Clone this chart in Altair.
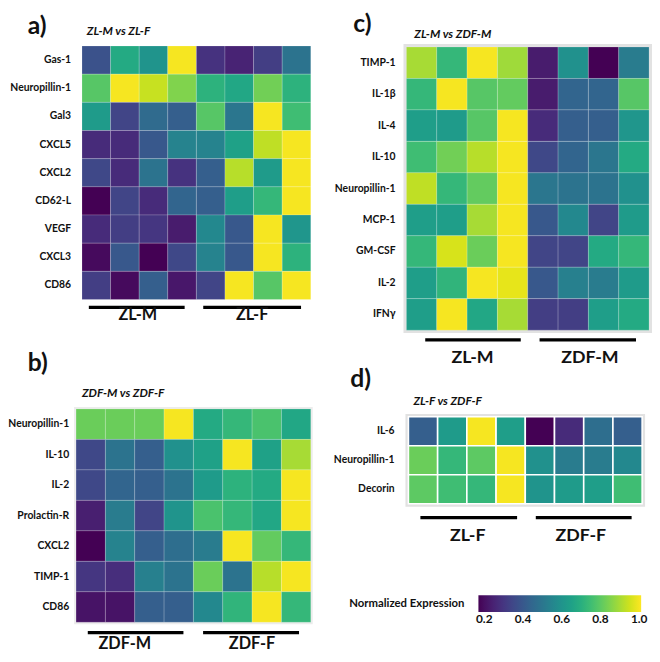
import altair as alt
import pandas as pd

# ---------------- data ----------------
a_genes = ["Gas-1", "Neuropillin-1", "Gal3", "CXCL5", "CXCL2", "CD62-L", "VEGF", "CXCL3", "CD86"]
a_values = [
    [0.38, 0.68, 0.60, 1.00, 0.29, 0.25, 0.32, 0.49],
    [0.79, 1.00, 0.94, 0.85, 0.71, 0.67, 0.83, 0.71],
    [0.63, 0.34, 0.46, 0.42, 0.79, 0.50, 1.00, 0.75],
    [0.27, 0.27, 0.40, 0.54, 0.54, 0.65, 0.93, 1.00],
    [0.35, 0.27, 0.49, 0.29, 0.42, 0.92, 0.63, 1.00],
    [0.17, 0.34, 0.27, 0.44, 0.42, 0.64, 0.73, 1.00],
    [0.27, 0.32, 0.30, 0.23, 0.56, 0.40, 1.00, 0.61],
    [0.19, 0.40, 0.17, 0.35, 0.54, 0.40, 1.00, 0.71],
    [0.32, 0.19, 0.42, 0.22, 0.34, 1.00, 0.79, 1.00],
]
a_groups = ["ZL-M", "ZL-F"]

b_genes = ["Neuropillin-1", "IL-10", "IL-2", "Prolactin-R", "CXCL2", "TIMP-1", "CD86"]
b_values = [
    [0.82, 0.82, 0.82, 1.00, 0.68, 0.73, 0.77, 0.67],
    [0.35, 0.49, 0.42, 0.59, 0.65, 1.00, 0.65, 0.90],
    [0.35, 0.44, 0.42, 0.49, 0.63, 0.71, 0.68, 1.00],
    [0.24, 0.52, 0.34, 0.60, 0.77, 0.73, 0.67, 1.00],
    [0.17, 0.54, 0.42, 0.47, 0.52, 1.00, 0.81, 0.73],
    [0.30, 0.28, 0.53, 0.49, 0.82, 0.49, 0.92, 1.00],
    [0.21, 0.21, 0.42, 0.42, 0.56, 0.72, 1.00, 0.73],
]
b_groups = ["ZDF-M", "ZDF-F"]

c_genes = ["TIMP-1", "IL-1β", "IL-4", "IL-10", "Neuropillin-1", "MCP-1", "GM-CSF", "IL-2", "IFNγ"]
c_values = [
    [0.90, 0.73, 1.00, 0.89, 0.23, 0.59, 0.17, 0.52],
    [0.73, 1.00, 0.79, 0.81, 0.23, 0.44, 0.44, 0.79],
    [0.64, 0.63, 0.79, 1.00, 0.27, 0.42, 0.42, 0.61],
    [0.75, 0.83, 0.92, 1.00, 0.35, 0.44, 0.50, 0.68],
    [0.93, 0.73, 0.81, 1.00, 0.50, 0.49, 0.49, 0.59],
    [0.64, 0.64, 0.90, 1.00, 0.40, 0.56, 0.34, 0.63],
    [0.73, 0.96, 0.82, 1.00, 0.34, 0.34, 0.68, 0.73],
    [0.64, 0.72, 1.00, 0.98, 0.40, 0.53, 0.52, 0.63],
    [0.64, 1.00, 0.67, 0.90, 0.32, 0.32, 0.64, 0.68],
]
c_groups = ["ZL-M", "ZDF-M"]

d_genes = ["IL-6", "Neuropillin-1", "Decorin"]
d_values = [
    [0.42, 0.63, 1.00, 0.64, 0.17, 0.27, 0.47, 0.42],
    [0.82, 0.73, 0.80, 1.00, 0.59, 0.52, 0.52, 0.56],
    [0.80, 0.75, 0.73, 1.00, 0.60, 0.63, 0.64, 0.75],
]
d_groups = ["ZL-F", "ZDF-F"]

legend_ticks = [0.2, 0.4, 0.6, 0.8, 1.0]

# ---------------- style ----------------
FONT = "Lato"
INK = "#111111"
COLOR_SCALE = alt.Scale(scheme="viridis", domain=[0.17, 1.01])


def panel(letter, subtitle, genes, values, groups, lay):
    n = len(genes)
    ncol = len(values[0])
    cells = pd.DataFrame(
        [{"gene": g, "row": r, "col": c, "value": values[r][c]}
         for r, g in enumerate(genes) for c in range(ncol)]
    )
    xs = alt.Scale(domain=lay["xdom"], nice=False, zero=False)
    ys = alt.Scale(domain=lay["ydom"], nice=False, zero=False, reverse=True)

    def X(f):
        return alt.X(f, scale=xs, axis=None)

    def Y(f):
        return alt.Y(f, scale=ys, axis=None)

    layers = []
    if lay.get("border"):
        frame = pd.DataFrame({"x0": [0], "x1": [ncol], "y0": [0], "y1": [n]})
        layers.append(
            alt.Chart(frame).mark_rect(fill="white", stroke=lay["border"], strokeWidth=lay["border_w"])
            .encode(x=X("x0:Q"), x2="x1:Q", y=Y("y0:Q"), y2="y1:Q")
        )
    heat = (
        alt.Chart(cells)
        .transform_calculate(c1="datum.col + 1", r1="datum.row + 1")
        .mark_rect(stroke="white", strokeWidth=lay["cell_sw"], strokeOpacity=lay["cell_so"])
        .encode(
            x=X("col:Q"), x2="c1:Q",
            y=Y("row:Q"), y2="r1:Q",
            color=alt.Color("value:Q", scale=COLOR_SCALE, title="Normalized Expression",
                            legend=alt.Legend(values=legend_ticks, format=".1f")),
        )
    )
    layers.append(heat)

    # gene (row) labels
    glist = pd.DataFrame({"gene": genes, "yc": [r + 0.5 for r in range(n)],
                          "x": [lay["xdom"][0]] * n})
    layers.append(
        alt.Chart(glist).mark_text(font=FONT, fontSize=10.5, fontWeight="bold", color=INK,
                                   align="right", baseline="middle", dx=-lay["lpad"])
        .encode(x=X("x:Q"), y=Y("yc:Q"), text="gene:N")
    )

    bars = pd.DataFrame({"x0": [lay["bars"][0][0], lay["bars"][1][0]],
                         "x1": [lay["bars"][0][1], lay["bars"][1][1]],
                         "y": [lay["bar_y"], lay["bar_y"]]})
    layers.append(
        alt.Chart(bars).mark_rule(color="black", strokeWidth=3.3)
        .encode(x=X("x0:Q"), x2="x1:Q", y=Y("y:Q"))
    )
    glabels = pd.DataFrame({"label": groups, "x": lay["glab_x"], "y": [lay["glab_y"]] * 2})
    layers.append(
        alt.Chart(glabels).mark_text(font=FONT, fontSize=lay["gfs"], fontWeight="bold", color=INK,
                                     align="center", baseline="middle")
        .encode(x=X("x:Q"), y=Y("y:Q"), text="label:N")
    )
    sub = pd.DataFrame({"label": [subtitle], "x": [lay["sub"][0]], "y": [lay["sub"][1]]})
    layers.append(
        alt.Chart(sub).mark_text(font=FONT, fontSize=12, fontWeight="bold", fontStyle="italic",
                                 color=INK, align="left", baseline="middle")
        .encode(x=X("x:Q"), y=Y("y:Q"), text="label:N")
    )
    let = pd.DataFrame({"label": [letter], "x": [lay["let"][0]], "y": [lay["let"][1]]})
    layers.append(
        alt.Chart(let).mark_text(font=FONT, fontSize=25, fontWeight="bold", color=INK,
                                 align="left", baseline="middle")
        .encode(x=X("x:Q"), y=Y("y:Q"), text="label:N")
    )
    return alt.layer(*layers).properties(width=lay["w"], height=lay["h"])


pa = panel("a)", "ZL-M vs ZL-F", a_genes, a_values, a_groups, dict(
    xdom=[-0.207, 8], ydom=[-1.085, 10.119], w=238, h=320, lpad=5,
    cell_sw=0.6, cell_so=0.3, border=None,
    bars=[(0.24, 3.59), (4.24, 7.66)], bar_y=9.28, glab_x=[1.95, 5.95], glab_y=9.57, gfs=16.5,
    sub=(0.17, -0.525), let=(-1.897, -0.72)))

pb = panel("b)", "ZDF-M vs ZDF-F", b_genes, b_values, b_groups, dict(
    xdom=[0, 8], ydom=[-1.230, 7.864], w=238, h=281, lpad=7,
    cell_sw=0.6, cell_so=0.3, border="#ececec", border_w=4,
    bars=[(0.40, 3.66), (4.33, 7.60)], bar_y=7.34, glab_x=[1.66, 6.0], glab_y=7.73, gfs=16.5,
    sub=(0.2, -0.52), let=(-1.647, -1.49)))

pc = panel("c)", "ZL-M vs ZDF-M", c_genes, c_values, c_groups, dict(
    xdom=[0, 8], ydom=[-1.003, 10.251], w=246, h=359, lpad=11,
    cell_sw=0.6, cell_so=0.3, border="#e2e2e2", border_w=6,
    bars=[(0.62, 3.77), (4.39, 7.57)], bar_y=9.31, glab_x=[2.18, 6.05], glab_y=9.875, gfs=18,
    sub=(0.26, -0.41), let=(-1.756, -0.72)))

pd_ = panel("d)", "ZL-F vs ZDF-F", d_genes, d_values, d_groups, dict(
    xdom=[-0.068, 8], ydom=[-1.565, 4.524], w=239, h=179, lpad=12,
    cell_sw=1.6, cell_so=1.0, border="#e2e2e2", border_w=6,
    bars=[(0.41, 3.72), (4.36, 7.64)], bar_y=3.48, glab_x=[2.03, 5.9], glab_y=4.12, gfs=18,
    sub=(0.17, -0.54), let=(-1.994, -1.29)))

chart = (
    alt.concat(pa, pc, pb, pd_, columns=2, spacing={"row": 2, "column": 97},
               bounds="flush", align="each")
    .properties(padding=0)
    .configure_view(stroke=None)
    .configure_legend(
        orient="none", legendX=277, legendY=588, direction="horizontal",
        gradientLength=165, gradientThickness=17, gradientStrokeWidth=0,
        titleOrient="left", titleFont=FONT, titleFontSize=11.5, titleFontWeight="bold",
        titleColor=INK, titlePadding=14, titleBaseline="middle",
        labelFont=FONT, labelFontSize=12, labelFontWeight="bold", labelColor=INK,
        labelOffset=9, labelOverlap=False,
    )
)

chart.save("out.html", embed_options={"renderer": "svg", "actions": False})
